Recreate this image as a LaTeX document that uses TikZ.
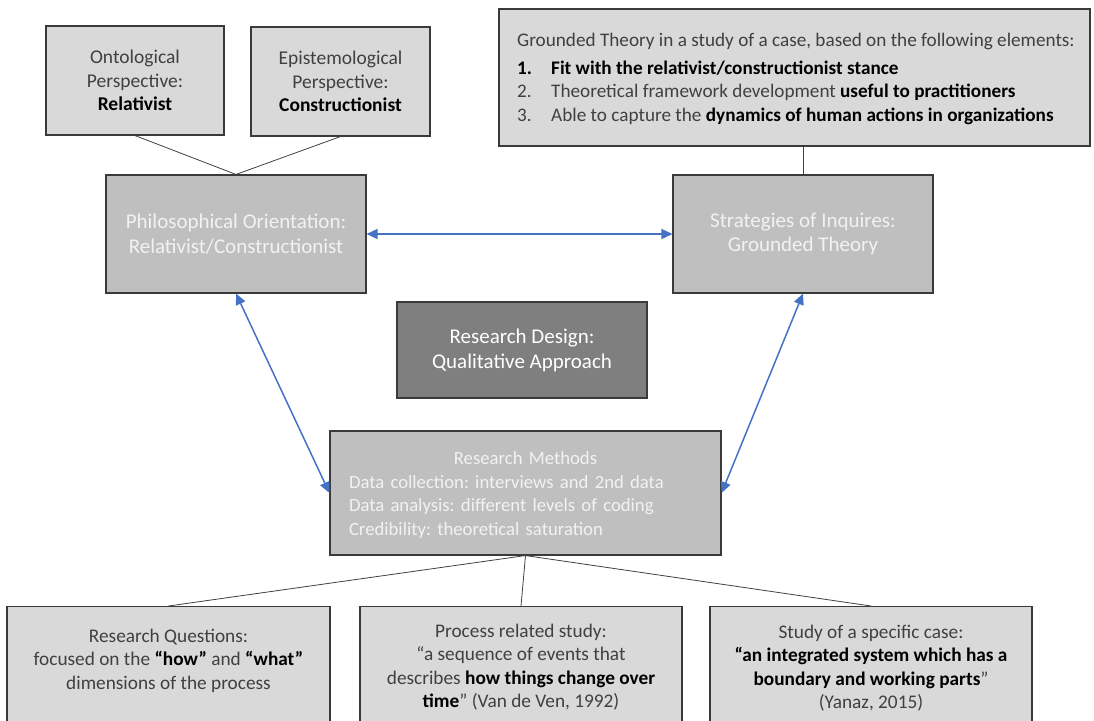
\documentclass[tikz,border=0pt]{standalone}
\usepackage{fontspec}
\setmainfont{Carlito}
\usetikzlibrary{arrows.meta}
\frenchspacing

\definecolor{txt}{HTML}{404040}
\definecolor{lightfill}{HTML}{D9D9D9}
\definecolor{midfill}{HTML}{BFBFBF}
\definecolor{darkfill}{HTML}{7F7F7F}
\definecolor{edge}{HTML}{3A3A3A}
\definecolor{linkblue}{HTML}{4472C4}
\definecolor{pale}{HTML}{F2F2F2}

% bold black emphasis inside grey text
\newcommand\hl[1]{\textbf{\color{black}#1}}

\tikzset{
  box/.style={draw=edge, line width=1.1pt, inner sep=0pt, align=center,
              font=\fontsize{18.5}{23.5}\selectfont},
  lightbox/.style={box, fill=lightfill, text=txt},
  midbox/.style={box, fill=midfill, text=pale},
  bigtext/.style={font=\fontsize{21}{24.5}\selectfont},
  darkbox/.style={box, fill=darkfill, text=white,
              font=\fontsize{21}{25}\selectfont},
  boxtext/.style={inner sep=0pt, align=center, text=txt,
              font=\fontsize{19.3}{23.5}\selectfont},
  link/.style={draw=black!75, line width=0.8pt},
  twoway/.style={draw=linkblue, line width=1.5pt,
              {Triangle[length=11pt,width=10pt]}-{Triangle[length=11pt,width=10pt]}},
}

\begin{document}
\begin{tikzpicture}[x=1pt, y=-1pt]
\path[use as bounding box] (0,0) rectangle (1094,720);
\clip (0,0) rectangle (1094,720);

% perspectives
\node[lightbox, font=\fontsize{19.5}{23.5}\selectfont, minimum width=178, minimum height=109] (onto) at (135,80.5)
  {Ontological\\Perspective:\\\hl{Relativist}};
\node[lightbox, font=\fontsize{19.5}{23.5}\selectfont, minimum width=179, minimum height=109] (epis) at (340.5,81.5)
  {Epistemological\\Perspective:\\\hl{Constructionist}};

% grounded theory elements
\node[lightbox, minimum width=591, minimum height=137] (gt) at (794.5,77.5) {};
\node[boxtext, font=\fontsize{19.2}{23.8}\selectfont, align=left, anchor=west] (gttext) at (517,79)
  {Grounded Theory in a study of a case, based on the following elements:\\[4pt]
   \makebox[34pt][l]{\hl{1.}}\hl{Fit with the relativist/constructionist stance}\\
   \makebox[34pt][l]{2.}Theoretical framework development \hl{useful to practitioners}\\
   \makebox[34pt][l]{3.}Able to capture the \hl{dynamics of human actions in organizations}};

% orientation and strategy
\node[midbox, bigtext, minimum width=260, minimum height=118] (phil) at (236,234)
  {Philosophical Orientation:\\Relativist/Constructionist};
\node[midbox, bigtext, minimum width=260, minimum height=118] (strat) at (803,234)
  {Strategies of Inquires:\\Grounded Theory};

% design
\node[darkbox, minimum width=250, minimum height=96] (design) at (522,350)
  {Research Design:\\Qualitative Approach};

% methods
\node[midbox, minimum width=391, minimum height=124] (methods) at (525.5,493) {};
\node[boxtext, font=\fontsize{18.7}{23.5}\selectfont, text=pale, text width=353, align=left] (methodstext) at (525.5,495)
  {\makebox[353pt]{Research Methods}\\
   Data collection: interviews and 2nd data\\
   Data analysis: different levels of coding\\
   Credibility: theoretical saturation};

% bottom row
\node[lightbox, minimum width=323, minimum height=140, anchor=north] (rq) at (168.5,606) {};
\node[lightbox, minimum width=322, minimum height=140, anchor=north] (proc) at (521,606) {};
\node[lightbox, minimum width=322, minimum height=140, anchor=north] (case) at (871,606) {};

\node[boxtext] (rqtext) at (168.5,660.5)
  {Research Questions:\\focused on the \hl{“how”} and \hl{“what”}\\dimensions of the process};
\node[boxtext] (proctext) at (521,667)
  {Process related study:\\“a sequence of events that\\describes \hl{how things change over}\\\hl{time}” (Van de Ven, 1992)};
\node[boxtext] (casetext) at (871,668)
  {Study of a specific case:\\\hl{“an integrated system which has a}\\\hl{boundary and working parts}”\\(Yanaz, 2015)};

% connectors
\draw[link] (onto.south) -- (phil.north);
\draw[link] (epis.south) -- (phil.north);
\draw[link] (gt.south -| strat.north) -- (strat.north);
\draw[link] (methods.south) -- (rq.north);
\draw[link] (methods.south) -- (proc.north);
\draw[link] (methods.south) -- (case.north);

\draw[twoway] (phil.east) -- (strat.west);
\draw[twoway] (phil.south) -- (methods.west);
\draw[twoway] (strat.south) -- (methods.east);
\end{tikzpicture}
\end{document}
